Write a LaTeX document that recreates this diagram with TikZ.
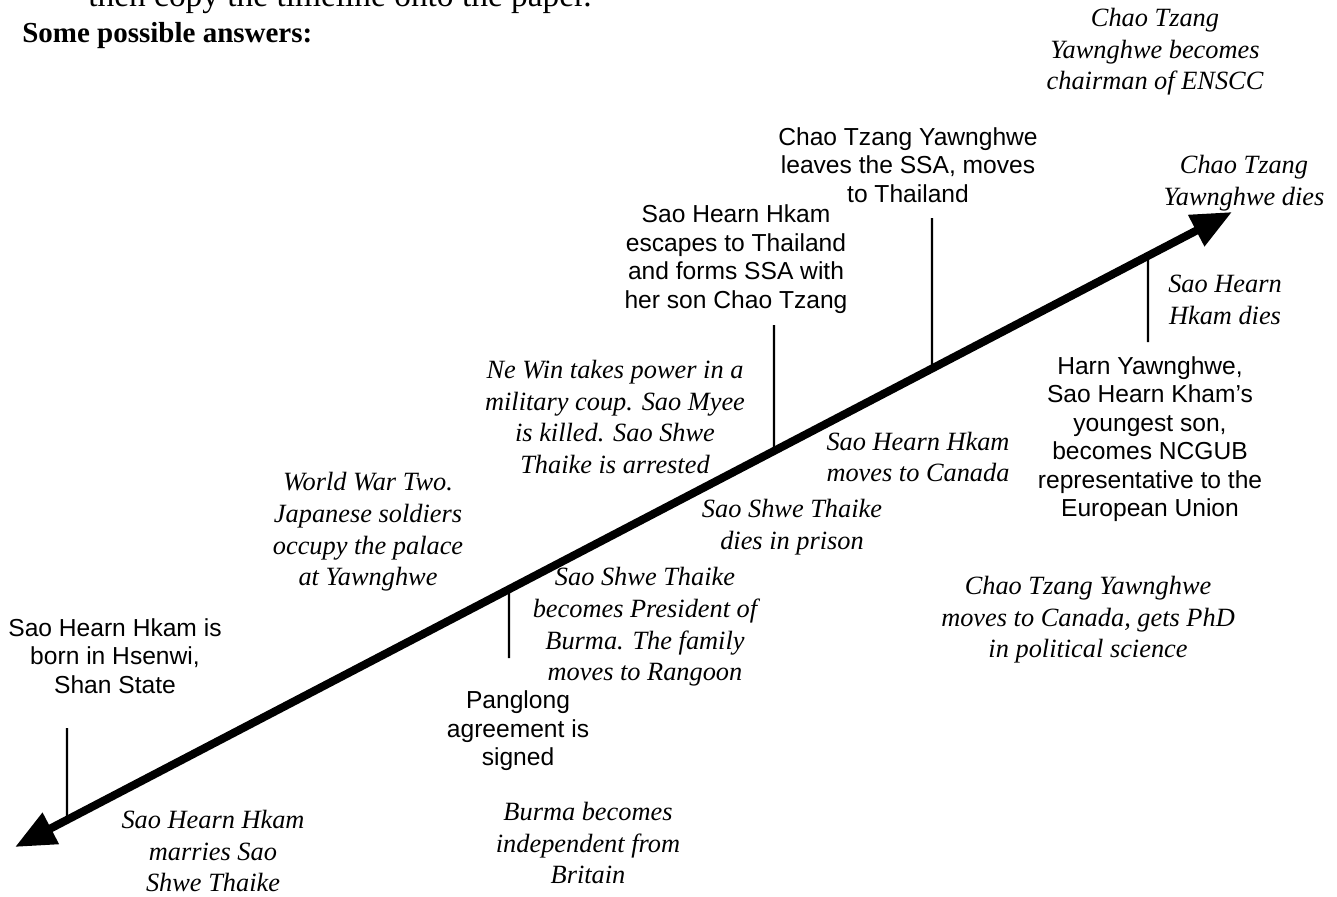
\documentclass[tikz,border=0pt]{standalone}
\usepackage{fontspec}
\setmainfont{Liberation Serif}
\setsansfont{Liberation Sans}
\usetikzlibrary{arrows.meta,calc}

\tikzset{
	evt/.style={font=\sffamily\fontsize{14}{16.2}\selectfont, align=center, inner sep=0pt},
	note/.style={font=\itshape\fontsize{15}{18}\selectfont, align=center, inner sep=0pt},
	timeline/.style={line width=4.6pt, {Triangle[length=23pt,width=19pt]}-{Triangle[length=23pt,width=19pt]}},
	tick/.style={line width=1.2pt}
}

\begin{document}
\begin{tikzpicture}[x=0.02cm, y=-0.02cm]
		\path[use as bounding box, fill=white] (0, 0) rectangle (1337, 896);

		\node[anchor=base west, inner sep=0pt, font=\fontsize{19}{22}\selectfont] (intro) at (88, 6) {then copy the timeline onto the paper.};
		\node[anchor=base west, inner sep=0pt, font=\bfseries\fontsize{16.5}{20}\selectfont] (answers) at (22, 42) {Some possible answers:};

		% the time line
		\coordinate (early) at (15, 847);
		\coordinate (late) at (1232, 212);
		\draw[timeline] (early) -- (late);

		% ticks
		\foreach \n/\x/\y in {born/67/728, pang/509/658, esc/774/325, leave/932/218, harn/1148/342} {
			\coordinate (end-\n) at (\x, \y);
			\coordinate (on-\n) at ($(early)!{(\x-15)/1217}!(late)$);
			\draw[tick] (on-\n) -- (end-\n);
		}

		% events above and below
		\node[evt] (born) at (115, 656) {Sao Hearn Hkam is\\born in Hsenwi,\\Shan State};
		\node[evt] (panglong) at (518, 731) {Panglong\\agreement is\\signed};
		\node[evt] (escape) at (736, 259) {Sao Hearn Hkam\\escapes to Thailand\\and forms SSA with\\her son Chao Tzang};
		\node[evt] (leaves) at (908, 165) {Chao Tzang Yawnghwe\\leaves the SSA, moves\\to Thailand};
		\node[evt] (harn) at (1150, 439) {Harn Yawnghwe,\\Sao Hearn Kham’s\\youngest son,\\becomes NCGUB\\representative to the\\European Union};

		\node[note] (marries) at (213, 851) {Sao Hearn Hkam\\marries Sao\\Shwe Thaike};
		\node[note] (war) at (368, 532) {World War Two.\\Japanese soldiers\\occupy the palace\\at Yawnghwe};
		\node[note] (president) at (645, 627) {Sao Shwe Thaike\\becomes President of\\Burma. The family\\moves to Rangoon};
		\node[note] (indep) at (588, 843) {Burma becomes\\independent from\\Britain};
		\node[note] (newin) at (615, 417) {Ne Win takes power in a\\military coup. Sao Myee\\is killed. Sao Shwe\\Thaike is arrested};
		\node[note] (prison) at (792, 527) {Sao Shwe Thaike\\dies in prison};
		\node[note] (canada) at (918, 457) {Sao Hearn Hkam\\moves to Canada};
		\node[note] (phd) at (1088, 620) {Chao Tzang Yawnghwe\\moves to Canada, gets PhD\\in political science};
		\node[note] (enscc) at (1155, 52) {Chao Tzang\\Yawnghwe becomes\\chairman of ENSCC};
		\node[note] (ctdies) at (1244, 183) {Chao Tzang\\Yawnghwe dies};
		\node[note] (shkdies) at (1225, 300) {Sao Hearn\\Hkam dies};
	\end{tikzpicture}
\end{document}
